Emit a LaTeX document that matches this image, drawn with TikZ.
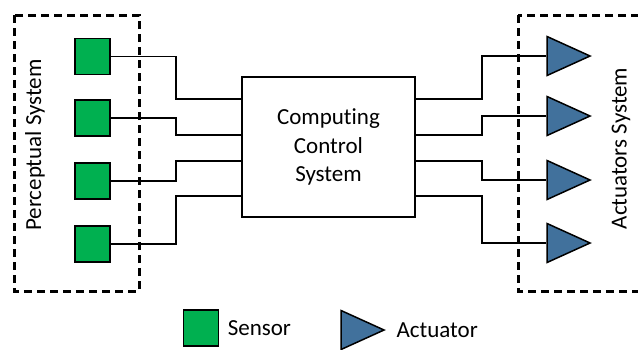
\documentclass[tikz,border=0pt]{standalone}
\usepackage{fontspec}
\setmainfont{Carlito}[Ligatures=NoCommon]
\usetikzlibrary{positioning, shapes.geometric}

\definecolor{sensgreen}{RGB}{0,176,80}
\definecolor{actblue}{RGB}{65,113,156}

\begin{document}
\begin{tikzpicture}[x=1pt, y=-1pt,
  every node/.style={font=\fontsize{23}{28.5}\selectfont},
  sensor/.style={draw=black, fill=sensgreen, line width=1.5pt, minimum width=35pt, minimum height=36pt, inner sep=0pt},
  actuator/.style={draw=black, fill=actblue, line width=1.5pt, isosceles triangle, isosceles triangle stretches,
                   minimum width=39pt, minimum height=43pt, inner sep=0pt},
  frame/.style={draw=black, line width=3pt, dash pattern=on 8pt off 5pt},
  wire/.style={draw=black, line width=1.6pt}
]
\useasboundingbox (0,0) rectangle (638,349);

% ---- dashed system frames ----
\draw[frame] (14,15) rectangle (139,291);
\draw[frame] (518,15) rectangle (660,291);

\node[rotate=90] (perc) at (35,145)   {Perceptual System};
\node[rotate=90] (acts) at (621,148.5) {Actuators System};

% ---- controller ----
\node[draw=black, line width=1.5pt, minimum width=173pt, minimum height=140pt, align=center]
  (ccs) at (328.5,147) {Computing\\Control\\System};

% ---- sensors (left) ----
\node[sensor] (s1) at (92.5,56.5) {};
\node[sensor] (s2) at (92.5,118)  {};
\node[sensor] (s3) at (92.5,181)  {};
\node[sensor] (s4) at (92.5,244)  {};

% ---- actuators (right) ----
\node[actuator, anchor=apex] (a1) at (592,56)  {};
\node[actuator, anchor=apex] (a2) at (592,116) {};
\node[actuator, anchor=apex] (a3) at (592,180) {};
\node[actuator, anchor=apex] (a4) at (592,243) {};

% ---- wires into the controller ----
\draw[wire] (s1.east) -- ++(65,0) |- ([yshift=48]ccs.west);
\draw[wire] (s2.east) -- ++(65,0) |- ([yshift=12]ccs.west);
\draw[wire] (s3.east) -- ++(65,0) |- ([yshift=-14]ccs.west);
\draw[wire] (s4.east) -- ++(65,0) |- ([yshift=-49]ccs.west);

% ---- wires out to the actuators ----
\draw[wire] ([yshift=48]ccs.east) -- ++(66,0) |- (a1.west);
\draw[wire] ([yshift=12]ccs.east) -- ++(66,0) |- (a2.west);
\draw[wire] ([yshift=-14]ccs.east) -- ++(66,0) |- (a3.west);
\draw[wire] ([yshift=-49]ccs.east) -- ++(66,0) |- (a4.west);

% ---- legend ----
\node[sensor] (lsens) at (201,328) {};
\node[right=5pt of lsens] (lsenstxt) {Sensor};
\node[actuator, anchor=apex] (lact) at (386,330) {};
\node[right=7pt of lact.apex] (lacttxt) {Actuator};
\end{tikzpicture}
\end{document}
